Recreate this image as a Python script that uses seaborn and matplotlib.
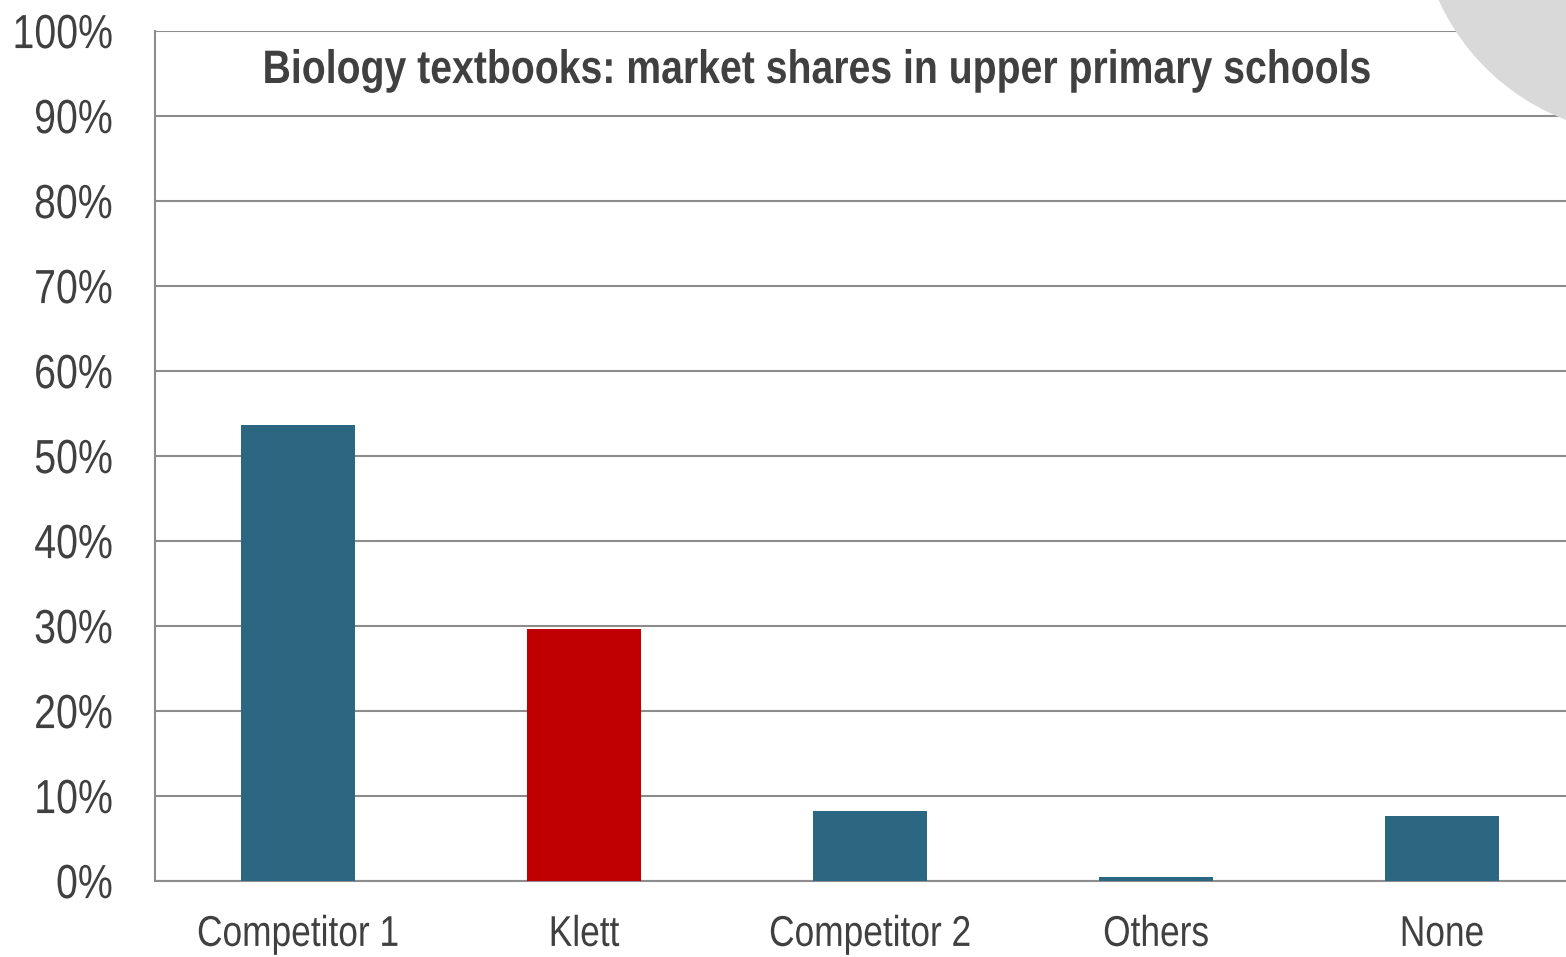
import matplotlib
matplotlib.use("Agg")
import matplotlib.pyplot as plt
import matplotlib.patches as mpatches
from matplotlib.patheffects import AbstractPathEffect
from matplotlib.transforms import Affine2D
import seaborn as sns
import pandas as pd
import numpy as np

categories = ["Competitor 1", "Klett", "Competitor 2", "Others", "None"]
shares = [53.6, 29.6, 8.2, 0.5, 7.6]
bar_colors = ["#2b6780", "#c00000", "#2b6780", "#2b6780", "#2b6780"]
yticks = [0, 10, 20, 30, 40, 50, 60, 70, 80, 90, 100]
title = "Biology textbooks: market shares in upper primary schools"

sns.set_theme(style="white")
plt.rcParams['font.family'] = ['Liberation Sans', 'DejaVu Sans']


class Tall(AbstractPathEffect):
    """Stretch glyphs vertically about a fixed height (font units, em=100),
    so a smaller font looks like a narrow face of a larger size."""
    def __init__(self, k=1.0, cy=0.0):
        super().__init__()
        self.k = k
        self.cy = cy

    def draw_path(self, renderer, gc, tpath, affine, rgbFace=None):
        t = Affine2D().translate(0, -self.cy).scale(1, self.k).translate(0, self.cy) + affine
        renderer.draw_path(gc, tpath, t, rgbFace)


df = pd.DataFrame({"cat": categories, "share": shares})

fig = plt.figure(figsize=(15.66, 9.57), dpi=100)
W, H = 1566, 957
left, right, top, bottom = 155, 1585, 31, 881
ax = fig.add_axes([left / W, 1 - bottom / H, (right - left) / W, (bottom - top) / H])

sns.barplot(data=df, x="cat", y="share", hue="cat", palette=bar_colors,
            order=categories, hue_order=categories, width=0.4, legend=False,
            saturation=1, linewidth=0, ax=ax, zorder=3)

s = 0.82
ax.set_ylim(0, 100)
ax.set_xlim(-0.5, len(categories) - 0.5)
ax.set_yticks(yticks)
ax.set_yticklabels([f"{v}%" for v in yticks], fontsize=34.5 * s, color="#404040")
ax.yaxis.grid(True, color="#8c8c8c", linewidth=1.5, zorder=0)
ax.set_axisbelow(True)
ax.set_xlabel("")
ax.set_ylabel("")

ax.set_xticks(np.arange(len(categories)))
ax.set_xticklabels(categories, fontsize=31 * s, color="#404040")
ax.set_xticks(np.arange(len(categories)) - 0.5, minor=True)
ax.tick_params(axis="x", which="major", length=0, pad=24)
ax.tick_params(axis="x", which="minor", length=8.6, width=1.5, color="#8c8c8c", direction="out")
ax.tick_params(axis="y", which="major", length=10, width=1.5, color="#8c8c8c", direction="out", pad=20.5)

for lab in ax.get_yticklabels():
    lab.set_path_effects([Tall(1 / s, 35.8)])
for lab in ax.get_xticklabels():
    lab.set_path_effects([Tall(1 / s, 72.0)])

for sp in ["top", "right"]:
    ax.spines[sp].set_visible(False)
for sp in ["left", "bottom"]:
    ax.spines[sp].set_color("#8c8c8c")
    ax.spines[sp].set_linewidth(1.5)

st = 0.835
fig.text(817 / W, 1 - 83 / H, title, ha="center", va="baseline", fontsize=33.8 * st,
         fontweight="bold", color="#404040", zorder=5,
         path_effects=[Tall(1 / st, 0.0)])

# decorative grey circle in top-right corner
fig.patches.append(mpatches.Ellipse((1648 / W, 1 + 95 / H), 460 / W, 460 / H,
                                    transform=fig.transFigure, facecolor="#d9d9d9",
                                    edgecolor="none", zorder=10))

fig.savefig("out.png", dpi=100)
